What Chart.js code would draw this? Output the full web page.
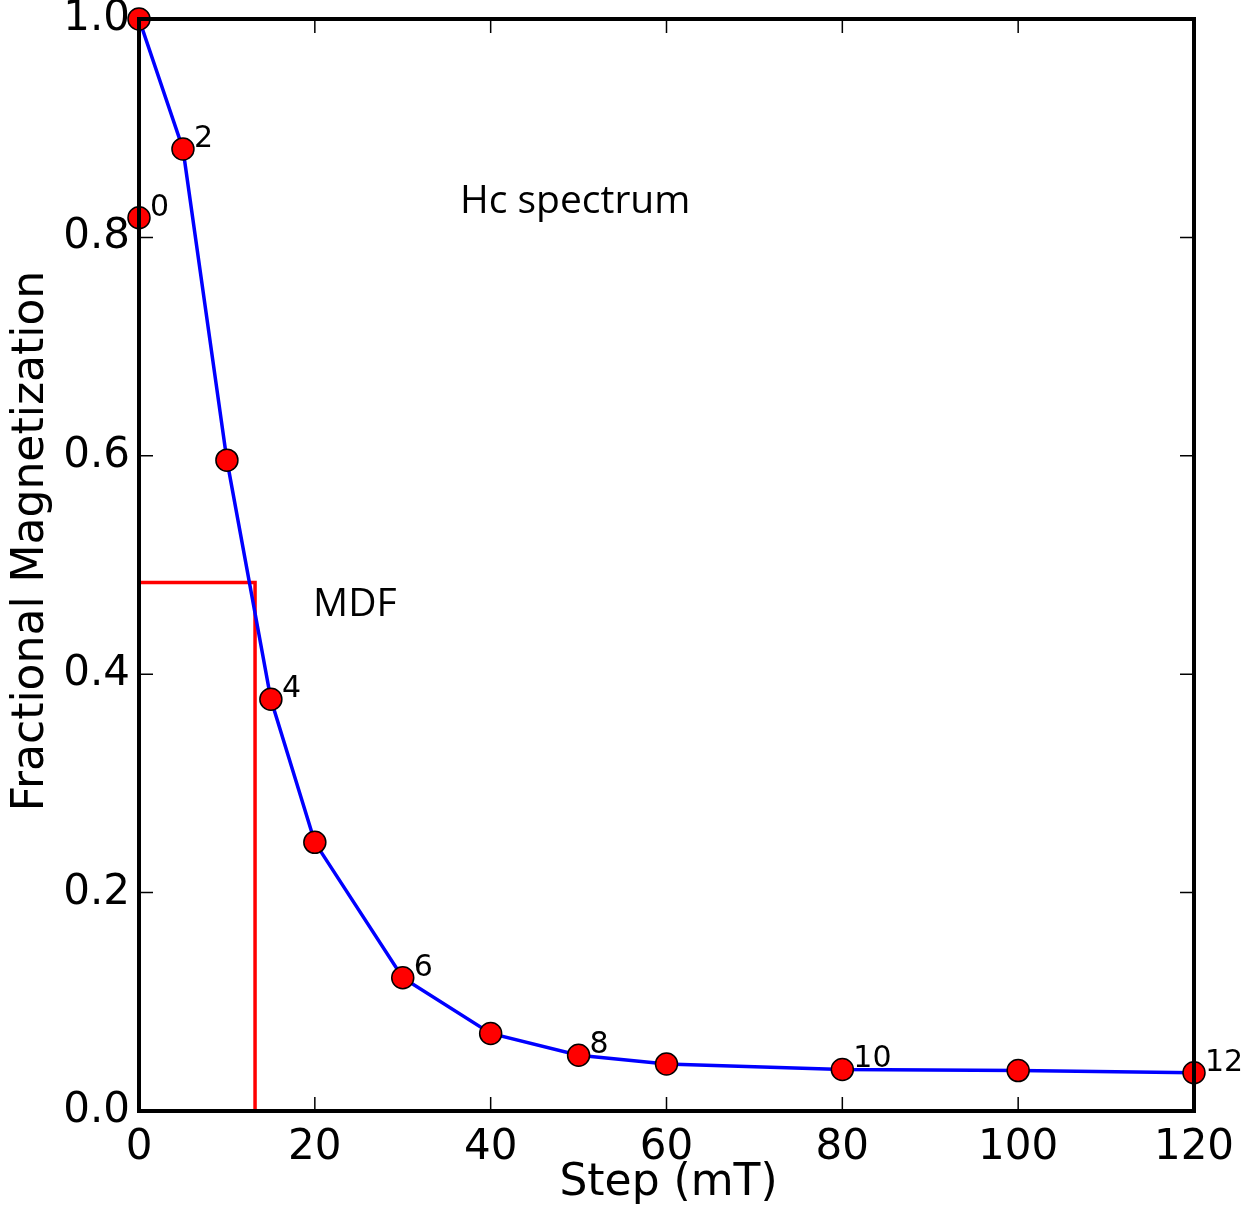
<!DOCTYPE html>
<html>
<head>
<meta charset="utf-8">
<script src="https://cdn.jsdelivr.net/npm/chart.js@4.4.1/dist/chart.umd.min.js"></script>
<style>
  html, body { margin: 0; padding: 0; background: #fff; }
  canvas { display: block; }
</style>
</head>
<body>
<canvas id="hc-chart" width="1249" height="1209"></canvas>
<script>
// data
const steps = [0, 0, 5, 10, 15, 20, 30, 40, 50, 60, 80, 100, 120];
const magnetization = [0.818, 1.0, 0.881, 0.596, 0.377, 0.246, 0.122, 0.071, 0.051, 0.043, 0.038, 0.037, 0.035];
const mdfStep = 13.2;
const mdfLevel = 0.484;
const xTicks = [0, 20, 40, 60, 80, 100, 120];
const yTicks = [0, 0.2, 0.4, 0.6, 0.8, 1.0];

const tickFont = '"DejaVu Sans", sans-serif';

const curve = steps.map((s, i) => ({ x: s, y: magnetization[i] }));
const mdfLine = [
  { x: 0, y: mdfLevel },
  { x: mdfStep, y: mdfLevel },
  { x: mdfStep, y: 0 }
];

// frame, inward ticks, labels on top of the data
const framePlugin = {
  id: 'frame',
  afterDatasetsDraw(chart) {
    const { ctx, chartArea: a, scales } = chart;
    const xs = scales.x, ys = scales.y;
    ctx.save();
    ctx.strokeStyle = '#000';
    ctx.lineWidth = 1.5;
    ctx.beginPath();
    xTicks.forEach(v => {
      const px = xs.getPixelForValue(v);
      ctx.moveTo(px, a.bottom); ctx.lineTo(px, a.bottom - 14);
      ctx.moveTo(px, a.top); ctx.lineTo(px, a.top + 14);
    });
    yTicks.forEach(v => {
      const py = ys.getPixelForValue(v);
      ctx.moveTo(a.left, py); ctx.lineTo(a.left + 14, py);
      ctx.moveTo(a.right, py); ctx.lineTo(a.right - 14, py);
    });
    ctx.stroke();

    ctx.lineWidth = 4;
    ctx.strokeRect(a.left, a.top, a.right - a.left, a.bottom - a.top);

    // step numbers next to every other point
    ctx.fillStyle = '#000';
    ctx.font = '30px ' + tickFont;
    ctx.textBaseline = 'middle';
    ctx.textAlign = 'left';
    curve.forEach((p, i) => {
      if (i % 2 !== 0) return;
      ctx.fillText(String(i), xs.getPixelForValue(p.x) + 11, ys.getPixelForValue(p.y) - 10);
    });

    // annotations
    ctx.font = '39px "Open Sans", sans-serif';
    ctx.textBaseline = 'alphabetic';
    ctx.fillText('Hc spectrum', xs.getPixelForValue(36.5), ys.getPixelForValue(0.822));
    ctx.fillText('MDF', xs.getPixelForValue(19.8), ys.getPixelForValue(0.453));

    // axis titles
    ctx.font = '44px ' + tickFont;
    ctx.textAlign = 'center';
    ctx.fillText('Step (mT)', (a.left + a.right) / 2 + 2, 1195);
    ctx.save();
    ctx.translate(43, 541);
    ctx.rotate(-Math.PI / 2);
    ctx.fillText('Fractional Magnetization', 0, 0);
    ctx.restore();
    ctx.restore();
  }
};

new Chart(document.getElementById('hc-chart'), {
  type: 'scatter',
  data: {
    datasets: [
      {
        label: 'points',
        data: curve,
        showLine: false,
        pointRadius: 11,
        pointBackgroundColor: '#ff0000',
        pointBorderColor: '#000',
        pointBorderWidth: 1.5,
        order: 0,
        clip: false
      },
      {
        label: 'curve',
        data: curve,
        showLine: true,
        borderColor: '#0000ff',
        borderWidth: 3.5,
        pointRadius: 0,
        order: 1,
        clip: false
      },
      {
        label: 'MDF',
        data: mdfLine,
        showLine: true,
        borderColor: '#ff0000',
        borderWidth: 3.5,
        pointRadius: 0,
        order: 2,
        clip: false
      }
    ]
  },
  options: {
    responsive: false,
    animation: false,
    devicePixelRatio: 1,
    layout: { padding: { left: 0, top: 19, right: 55, bottom: 0 } },
    plugins: {
      legend: { display: false },
      tooltip: { enabled: false }
    },
    scales: {
      x: {
        type: 'linear',
        min: 0,
        max: 120,
        afterBuildTicks: s => { s.ticks = xTicks.map(v => ({ value: v })); },
        afterFit: s => { s.height = 98; s.paddingLeft = 0; s.paddingRight = 0; },
        grid: { display: false, drawTicks: false },
        border: { display: false },
        ticks: {
          color: '#000',
          padding: 12,
          maxRotation: 0,
          font: { family: tickFont, size: 42 },
          callback: v => String(v)
        }
      },
      y: {
        type: 'linear',
        min: 0,
        max: 1,
        afterBuildTicks: s => { s.ticks = yTicks.map(v => ({ value: v })); },
        afterFit: s => { s.width = 139; s.paddingTop = 0; s.paddingBottom = 0; },
        grid: { display: false, drawTicks: false },
        border: { display: false },
        ticks: {
          color: '#000',
          padding: 9,
          font: { family: tickFont, size: 42 },
          callback: v => v.toFixed(1)
        }
      }
    }
  },
  plugins: [framePlugin]
});
</script>
</body>
</html>
